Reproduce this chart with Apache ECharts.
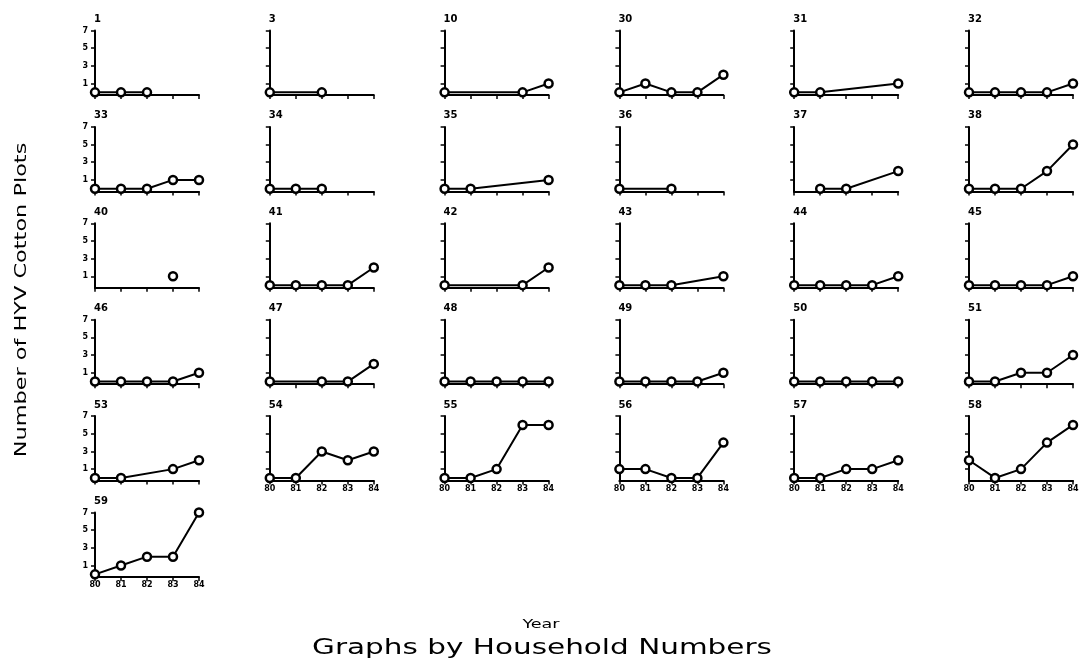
<!DOCTYPE html>
<html>
<head>
<meta charset="utf-8">
<style>
  html, body { margin: 0; padding: 0; background: #fff; }
  #main { width: 1084px; height: 669px; }
</style>
<script src="https://cdn.jsdelivr.net/npm/echarts@6/dist/echarts.min.js"></script>
</head>
<body>
<div id="main"></div>
<script>
// years on every panel's x axis
const years = [80, 81, 82, 83, 84];
const yTicks = [1, 3, 5, 7];
// household numbers, in panel order (6 per row)
const households = [1, 3, 10, 30, 31, 32,
  33, 34, 35, 36, 37, 38,
  40, 41, 42, 43, 44, 45,
  46, 47, 48, 49, 50, 51,
  53, 54, 55, 56, 57, 58,
  59];
// number of HYV cotton plots per year (null = no observation)
const plots = [
  [0, 0, 0, null, null], [0, null, 0, null, null], [0, null, null, 0, 1],
  [0, 1, 0, 0, 2], [0, 0, null, null, 1], [0, 0, 0, 0, 1],
  [0, 0, 0, 1, 1], [0, 0, 0, null, null], [0, 0, null, null, 1],
  [0, null, 0, null, null], [null, 0, 0, null, 2], [0, 0, 0, 2, 5],
  [null, null, null, 1, null], [0, 0, 0, 0, 2], [0, null, null, 0, 2],
  [0, 0, 0, null, 1], [0, 0, 0, 0, 1], [0, 0, 0, 0, 1],
  [0, 0, 0, 0, 1], [0, null, 0, 0, 2], [0, 0, 0, 0, 0],
  [0, 0, 0, 0, 1], [0, 0, 0, 0, 0], [0, 0, 1, 1, 3],
  [0, 0, null, 1, 2], [0, 0, 3, 2, 3], [0, 0, 1, 6, 6],
  [1, 1, 0, 0, 4], [0, 0, 1, 1, 2], [2, 0, 1, 4, 6],
  [0, 1, 2, 2, 7]
];

const font = "DejaVu Sans";
const cols = 6;
const grids = [], xAxes = [], yAxes = [], series = [], titles = [];

households.forEach((id, i) => {
  const col = i % cols;
  const row = Math.floor(i / cols);
  const left = 95 + col * 174.8;
  const bottom = 95 + row * 96.4;
  const h = 64.5;
  const top = bottom - h;
  // bottom panel of its column shows year labels
  const lastInCol = i + cols >= households.length;

  grids.push({ left: left, top: top, width: 104, height: h });
  titles.push({
    text: String(id),
    left: left - 6,
    top: top - 21,
    textStyle: { fontFamily: font, fontSize: 10, fontWeight: "bold", color: "#000" }
  });
  xAxes.push({
    type: "value",
    gridIndex: i,
    min: 80,
    max: 84,
    interval: 1,
    axisLine: { onZero: false, lineStyle: { color: "#000", width: 2 } },
    axisTick: { show: true, length: 4, lineStyle: { color: "#000", width: 1.5 } },
    axisLabel: {
      show: lastInCol,
      fontFamily: font,
      fontSize: 8,
      fontWeight: "bold",
      color: "#000",
      margin: 4
    },
    splitLine: { show: false }
  });
  yAxes.push({
    type: "value",
    gridIndex: i,
    min: -0.3,
    max: 7,
    axisLine: { show: true, lineStyle: { color: "#000", width: 2 } },
    axisTick: { show: true, length: 4, customValues: yTicks, lineStyle: { color: "#000", width: 1.5 } },
    axisLabel: {
      show: col === 0,
      customValues: yTicks,
      fontFamily: font,
      fontSize: 8,
      fontWeight: "bold",
      color: "#000",
      margin: 7
    },
    splitLine: { show: false }
  });
  const pts = [];
  plots[i].forEach((v, k) => {
    if (v !== null) pts.push([years[k], v]);
  });
  series.push({
    type: "line",
    xAxisIndex: i,
    yAxisIndex: i,
    data: pts,
    symbol: "circle",
    symbolSize: 8,
    showSymbol: true,
    lineStyle: { color: "#000", width: 2 },
    itemStyle: { color: "#fff", borderColor: "#000", borderWidth: 2.5 },
    animation: false
  });
});

const chart = echarts.init(document.getElementById("main"));
chart.setOption({
  animation: false,
  title: titles,
  grid: grids,
  xAxis: xAxes,
  yAxis: yAxes,
  series: series,
  graphic: [{
    type: "text",
    x: 22,
    y: 300,
    rotation: Math.PI / 2,
    scaleX: 1.4,
    style: {
      text: "Number of HYV Cotton Plots",
      font: "16px DejaVu Sans",
      fill: "#000",
      align: "center",
      verticalAlign: "middle"
    }
  }, {
    type: "text",
    x: 541,
    y: 625,
    scaleX: 1.35,
    style: {
      text: "Year",
      font: "13px DejaVu Sans",
      fill: "#000",
      align: "center",
      verticalAlign: "middle"
    }
  }, {
    type: "text",
    x: 542,
    y: 648,
    scaleX: 1.34,
    style: {
      text: "Graphs by Household Numbers",
      font: "22px DejaVu Sans",
      fill: "#000",
      align: "center",
      verticalAlign: "middle"
    }
  }]
});
</script>
</body>
</html>
